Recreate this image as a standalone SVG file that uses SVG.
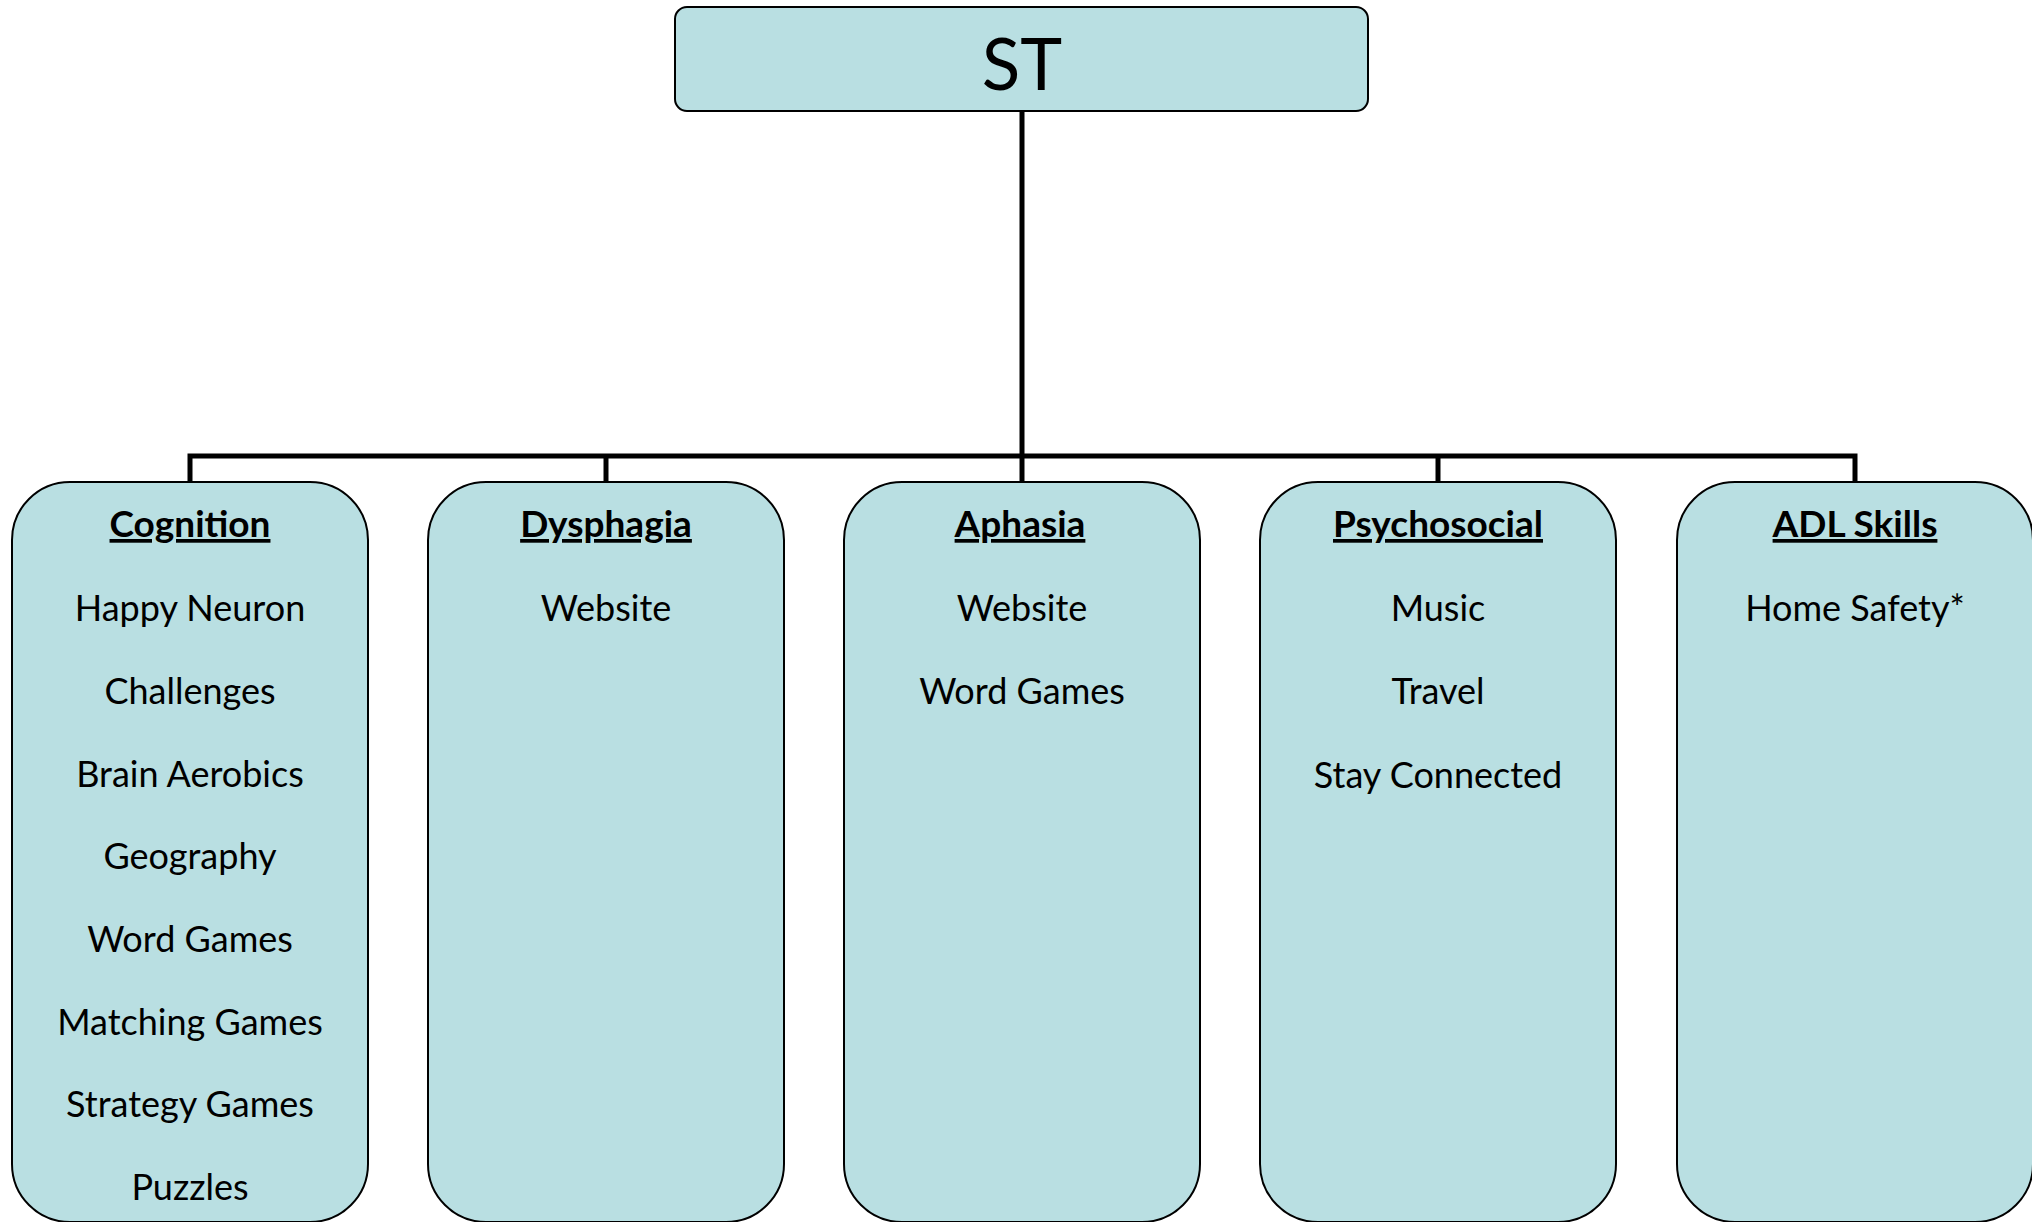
<svg xmlns="http://www.w3.org/2000/svg" width="2032" height="1222" viewBox="0 0 2032 1222">
<style>
.box{fill:#B9DFE2;stroke:#000;stroke-width:2}
.conn{fill:none;stroke:#000;stroke-width:5}
text{font-family:Lato,"Open Sans",sans-serif;fill:#000;text-anchor:middle}
.h{font-size:37px;font-weight:bold;text-decoration:underline}
.i{font-size:36px}
.t{font-size:71px}
</style>
<rect width="2032" height="1222" fill="#fff"/>
<g id="connectors">
<line class="conn" x1="1022" y1="110" x2="1022" y2="456"/>
<polyline class="conn" points="190,483 190,456 1855,456 1855,483"/>
<line class="conn" x1="606" y1="456" x2="606" y2="483"/>
<line class="conn" x1="1022" y1="456" x2="1022" y2="483"/>
<line class="conn" x1="1438" y1="456" x2="1438" y2="483"/>
</g>
<g id="st">
<rect class="box" x="675" y="7" width="693" height="104" rx="12"/>
<text class="t" x="1022" y="90">ST</text>
</g>
<g id="cognition">
<rect class="box" x="12" y="482" width="356" height="740" rx="58"/>
<text class="h" x="190" y="537">Cognition</text>
<text class="i" x="190" y="621">Happy Neuron</text>
<text class="i" x="190" y="704">Challenges</text>
<text class="i" x="190" y="787">Brain Aerobics</text>
<text class="i" x="190" y="869">Geography</text>
<text class="i" x="190" y="952">Word Games</text>
<text class="i" x="190" y="1035">Matching Games</text>
<text class="i" x="190" y="1117">Strategy Games</text>
<text class="i" x="190" y="1200">Puzzles</text>
</g>
<g id="dysphagia">
<rect class="box" x="428" y="482" width="356" height="740" rx="58"/>
<text class="h" x="606" y="537">Dysphagia</text>
<text class="i" x="606" y="621">Website</text>
</g>
<g id="aphasia">
<rect class="box" x="844" y="482" width="356" height="740" rx="58"/>
<text class="h" x="1020" y="537">Aphasia</text>
<text class="i" x="1022" y="621">Website</text>
<text class="i" x="1022" y="704">Word Games</text>
</g>
<g id="psychosocial">
<rect class="box" x="1260" y="482" width="356" height="740" rx="58"/>
<text class="h" x="1438" y="537">Psychosocial</text>
<text class="i" x="1438" y="621">Music</text>
<text class="i" x="1438" y="704">Travel</text>
<text class="i" x="1438" y="788">Stay Connected</text>
</g>
<g id="adl">
<rect class="box" x="1677" y="482" width="356" height="740" rx="58"/>
<text class="h" x="1855" y="537">ADL Skills</text>
<text class="i" x="1855" y="621">Home Safety*</text>
</g>
</svg>
